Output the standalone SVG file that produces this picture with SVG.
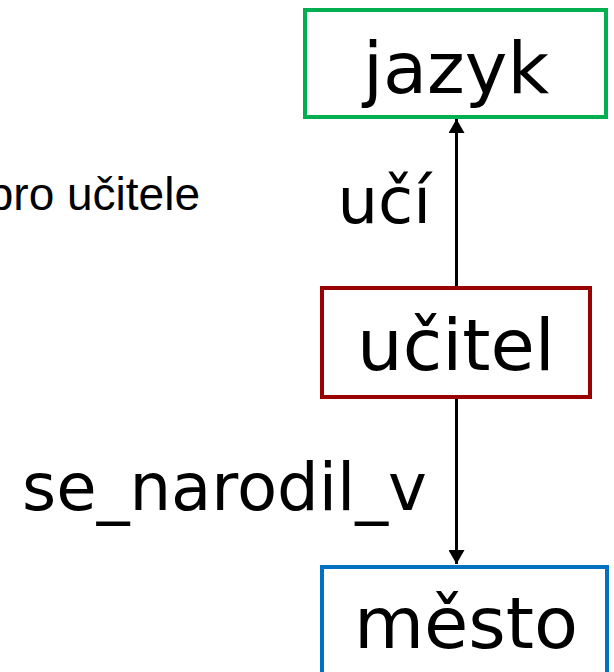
<svg xmlns="http://www.w3.org/2000/svg" width="614" height="672" viewBox="0 0 614 672">
<defs>
<style>
.node{fill:#fff;stroke-width:4}
.nt{font-family:"DejaVu Sans",sans-serif;font-size:72px;fill:#000;text-anchor:middle}
.lbl{font-family:"DejaVu Sans",sans-serif;fill:#000}
.edge{stroke:#000;stroke-width:3;fill:none}
</style>
<marker id="ah" markerWidth="15" markerHeight="16" refX="14" refY="8" orient="auto" markerUnits="userSpaceOnUse">
<path d="M0,0 L14,8 L0,16 Z" fill="#000"/>
</marker>
</defs>
<rect width="614" height="672" fill="#fff"/>
<text x="200" y="210" font-family="Liberation Sans, Arial, sans-serif" font-size="46" text-anchor="end" fill="#000">pro učitele</text>
<g id="connectors">
<line class="edge" x1="456.5" y1="288" x2="456.5" y2="119" marker-end="url(#ah)"/>
<line class="edge" x1="456.5" y1="397" x2="456.5" y2="564" marker-end="url(#ah)"/>
<text class="lbl" x="431" y="223" font-size="64" text-anchor="end">učí</text>
<text class="lbl" x="22" y="510" font-size="66" textLength="405" lengthAdjust="spacingAndGlyphs">se_narodil_v</text>
</g>
<g id="jazyk">
<rect class="node" x="305" y="10" width="301" height="107" stroke="#00B050"/>
<text class="nt" x="456" y="93">jazyk</text>
</g>
<g id="ucitel">
<rect class="node" x="322" y="288" width="268" height="109" stroke="#990000"/>
<text class="nt" x="456" y="370">učitel</text>
</g>
<g id="mesto">
<rect class="node" x="322" y="567" width="285" height="120" stroke="#0070C0"/>
<text class="nt" x="466" y="648">město</text>
</g>
</svg>
